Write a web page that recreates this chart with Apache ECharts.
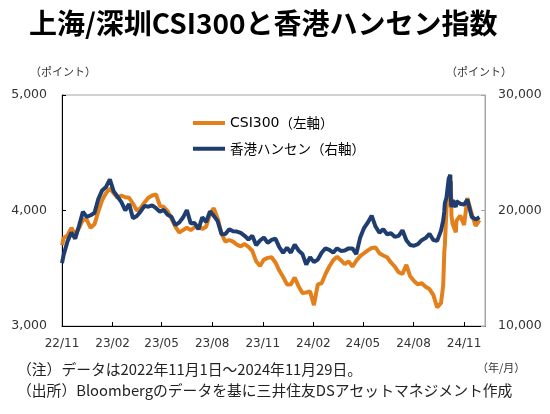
<!DOCTYPE html>
<html><head><meta charset="utf-8">
<script src="https://cdn.jsdelivr.net/npm/echarts@6/dist/echarts.min.js"></script>
<style>html,body{margin:0;padding:0;background:#fff}#c{width:550px;height:414px}</style>
</head><body><div id="c"></div>
<script>
const dates = [
'2022-11-01','2022-11-04','2022-11-11','2022-11-18','2022-11-25','2022-12-02','2022-12-09','2022-12-16','2022-12-23','2022-12-30',
'2023-01-06','2023-01-13','2023-01-20','2023-01-27','2023-02-03','2023-02-10','2023-02-17','2023-02-24','2023-03-03','2023-03-10',
'2023-03-17','2023-03-24','2023-03-31','2023-04-07','2023-04-14','2023-04-21','2023-04-28','2023-05-05','2023-05-12','2023-05-19',
'2023-05-26','2023-06-02','2023-06-09','2023-06-16','2023-06-23','2023-06-30','2023-07-07','2023-07-14','2023-07-21','2023-07-28',
'2023-08-04','2023-08-11','2023-08-18','2023-08-25','2023-09-01','2023-09-08','2023-09-15','2023-09-22','2023-09-29','2023-10-06',
'2023-10-13','2023-10-20','2023-10-27','2023-11-03','2023-11-10','2023-11-17','2023-11-24','2023-12-01','2023-12-08','2023-12-15',
'2023-12-22','2023-12-29','2024-01-05','2024-01-12','2024-01-19','2024-01-26','2024-02-02','2024-02-09','2024-02-16','2024-02-23',
'2024-03-01','2024-03-08','2024-03-15','2024-03-22','2024-03-29','2024-04-05','2024-04-12','2024-04-19','2024-04-26','2024-05-03',
'2024-05-10','2024-05-17','2024-05-24','2024-05-31','2024-06-07','2024-06-14','2024-06-21','2024-06-28','2024-07-05','2024-07-12',
'2024-07-19','2024-07-26','2024-08-02','2024-08-09','2024-08-16','2024-08-23','2024-08-30','2024-09-06','2024-09-13','2024-09-20',
'2024-09-24','2024-09-26','2024-09-27','2024-09-30','2024-10-04','2024-10-07','2024-10-08','2024-10-09','2024-10-11','2024-10-17',
'2024-10-18','2024-10-25','2024-11-01','2024-11-07','2024-11-08','2024-11-15','2024-11-22','2024-11-29'
];
const csi300 = [
3700,3760,3785,3850,3790,3850,3920,3920,3850,3880,
3990,4090,4150,4190,4150,4110,4130,4115,4110,4060,
4000,4020,4070,4110,4130,4140,4040,4030,3995,3930,
3860,3810,3830,3850,3830,3855,3870,3840,3860,3970,
4020,3930,3800,3730,3745,3730,3705,3690,3710,3685,
3650,3560,3520,3575,3590,3595,3550,3480,3425,3360,
3360,3420,3345,3285,3290,3300,3180,3360,3370,3450,
3515,3570,3600,3570,3535,3560,3515,3565,3605,3630,
3655,3675,3680,3630,3610,3595,3550,3515,3465,3450,
3530,3430,3390,3360,3370,3340,3320,3270,3160,3200,
3350,3640,3700,4017,null,null,4256,3955,3888,3811,
3910,3956,3874,4108,4105,3968,3866,3917
];
const hangSeng = [
15450,16160,17330,18100,17570,18680,19900,19450,19590,19780,
20990,21740,22040,22690,21660,21190,20720,20010,20570,19320,
19520,19920,20400,20330,20440,20200,19900,20050,19630,19450,
18750,18950,19390,20040,18890,18920,18370,19410,19000,19920,
19540,19080,17950,17960,18380,18200,18180,18060,17810,17490,
17810,17000,17400,17660,17200,17450,17560,16830,16330,16790,
16340,17050,16540,16240,15310,15950,15530,15750,16340,16730,
16590,16350,16720,16500,16540,16720,16720,16220,17650,18480,
18960,19550,18610,18080,18370,17940,18030,17720,17800,18290,
17420,17020,16950,17090,17430,17610,17990,17440,17370,18260,
19130,19920,20630,21130,22740,23100,20930,20290,20900,20300,
20800,20590,20510,20950,20730,19430,19230,19420
];
const tickDates = ['2022-11-01','2023-02-01','2023-05-01','2023-08-01','2023-11-01','2024-02-01','2024-05-01','2024-08-01','2024-11-01'];
const tickLabels = ['22/11','23/02','23/05','23/08','23/11','24/02','24/05','24/08','24/11'];
const axisStart = '2022-11-01';
const axisEnd = '2024-12-09';

function dayIndex(s){
  const p = s.split('-').map(Number), q = axisStart.split('-').map(Number);
  return Math.round((Date.UTC(p[0],p[1]-1,p[2]) - Date.UTC(q[0],q[1]-1,q[2])) / 86400000);
}
const tickDays = tickDates.map(dayIndex);
const orange = '#E3801C', navy = '#1F3D6E';
const jp = "'Noto Sans CJK JP', sans-serif";
const num = "'DejaVu Sans', sans-serif";

const chart = echarts.init(document.getElementById('c'), null, {renderer:'canvas'});
chart.setOption({
  animation:false,
  backgroundColor:'#fff',
  title:{text:'上海/深圳CSI300と香港ハンセン指数', left:24, top:4,
    textStyle:{fontFamily:jp, fontSize:28, fontWeight:'bold', color:'#000'}},
  grid:{left:62, right:65, top:95, bottom:88, show:true, borderColor:'#a6a6a6', borderWidth:1},
  legend:{orient:'vertical', left:188, top:111, itemWidth:32, itemHeight:4, itemGap:12, icon:'rect',
    formatter:n => n.startsWith('CSI300') ? '{a|CSI300}{b|（左軸）}' : '{b|' + n + '}',
    textStyle:{fontFamily:jp, fontSize:13.5, color:'#000',
      rich:{a:{fontFamily:num, fontSize:14, color:'#000'}, b:{fontFamily:jp, fontSize:13.5, color:'#000'}}},
    data:['CSI300（左軸）','香港ハンセン（右軸）']},
  xAxis:{type:'value', min:0, max:dayIndex(axisEnd),
    axisLine:{show:true, lineStyle:{color:'#000', width:1}},
    axisTick:{show:true, inside:true, length:4, customValues:tickDays, lineStyle:{color:'#000'}},
    axisLabel:{customValues:tickDays, formatter:v => tickLabels[tickDays.indexOf(v)] || '',
      fontFamily:num, fontSize:12, color:'#333', margin:12},
    splitLine:{show:false}},
  yAxis:[
    {type:'value', min:3000, max:5000, interval:1000, position:'left',
      axisLine:{show:true, lineStyle:{color:'#000'}},
      axisTick:{show:true, inside:true, length:4, lineStyle:{color:'#000'}},
      axisLabel:{formatter:v => v.toLocaleString('en-US'), fontFamily:num, fontSize:12.5, color:'#333', margin:15},
      splitLine:{show:false}},
    {type:'value', min:10000, max:30000, interval:10000, position:'right',
      axisLine:{show:true, lineStyle:{color:'#a6a6a6'}},
      axisTick:{show:true, inside:true, length:4, lineStyle:{color:'#a6a6a6'}},
      axisLabel:{formatter:v => v.toLocaleString('en-US'), fontFamily:num, fontSize:12.5, color:'#333', margin:13},
      splitLine:{show:false}}
  ],
  series:[
    {name:'CSI300（左軸）', type:'line', yAxisIndex:0, showSymbol:false, connectNulls:true,
      data:dates.map((d,i)=>[dayIndex(d), csi300[i]]),
      lineStyle:{width:4, color:orange}, itemStyle:{color:orange}},
    {name:'香港ハンセン（右軸）', type:'line', yAxisIndex:1, showSymbol:false, connectNulls:true,
      data:dates.map((d,i)=>[dayIndex(d), hangSeng[i]]),
      lineStyle:{width:4, color:navy}, itemStyle:{color:navy}}
  ],
  graphic:[
    {type:'text', left:30, top:66, style:{text:'（ポイント）', font:"11px 'Noto Sans CJK JP'", fill:'#333'}},
    {type:'text', left:446, top:66, style:{text:'（ポイント）', font:"11px 'Noto Sans CJK JP'", fill:'#333'}},
    {type:'text', left:477, top:362, style:{text:'（年/月）', font:"11px 'Noto Sans CJK JP'", fill:'#333'}},
    {type:'text', left:17, top:362, style:{text:'（注）データは2022年11月1日～2024年11月29日。', font:"14.8px 'Noto Sans CJK JP'", fill:'#222'}},
    {type:'text', left:17, top:383, style:{text:'（出所）Bloombergのデータを基に三井住友DSアセットマネジメント作成', font:"14.8px 'Noto Sans CJK JP'", fill:'#222'}}
  ]
});
</script>
</body></html>
